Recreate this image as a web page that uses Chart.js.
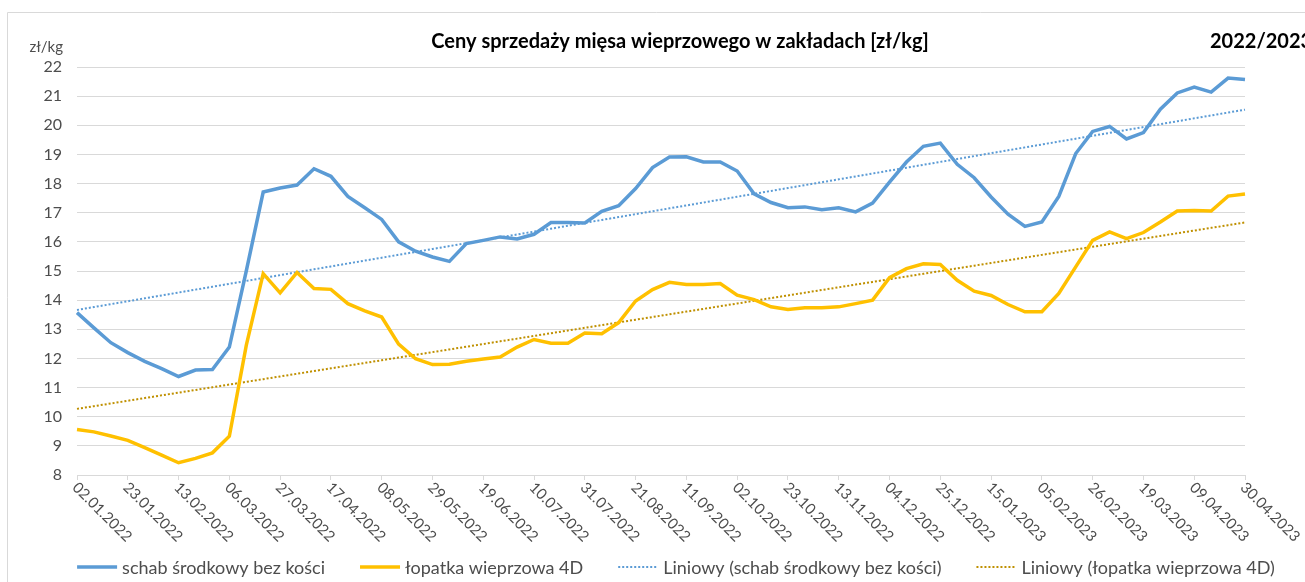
<!DOCTYPE html>
<html lang="pl">
<head>
<meta charset="utf-8">
<script src="https://cdn.jsdelivr.net/npm/chart.js@4.4.1/dist/chart.umd.min.js"></script>
<style>
  html, body { margin: 0; padding: 0; background: #fff; }
  #box { width: 1305px; height: 582px; position: relative; }
</style>
</head>
<body>
<div id="box"><canvas id="pigChart"></canvas></div>
<script>
// tygodnie notowań (niedziela)
const weeks = [
  '02.01.2022', '09.01.2022', '16.01.2022', '23.01.2022', '30.01.2022', '06.02.2022', '13.02.2022', '20.02.2022', '27.02.2022', '06.03.2022',
  '13.03.2022', '20.03.2022', '27.03.2022', '03.04.2022', '10.04.2022', '17.04.2022', '24.04.2022', '01.05.2022', '08.05.2022', '15.05.2022',
  '22.05.2022', '29.05.2022', '05.06.2022', '12.06.2022', '19.06.2022', '26.06.2022', '03.07.2022', '10.07.2022', '17.07.2022', '24.07.2022',
  '31.07.2022', '07.08.2022', '14.08.2022', '21.08.2022', '28.08.2022', '04.09.2022', '11.09.2022', '18.09.2022', '25.09.2022', '02.10.2022',
  '09.10.2022', '16.10.2022', '23.10.2022', '30.10.2022', '06.11.2022', '13.11.2022', '20.11.2022', '27.11.2022', '04.12.2022', '11.12.2022',
  '18.12.2022', '25.12.2022', '01.01.2023', '08.01.2023', '15.01.2023', '22.01.2023', '29.01.2023', '05.02.2023', '12.02.2023', '19.02.2023',
  '26.02.2023', '05.03.2023', '12.03.2023', '19.03.2023', '26.03.2023', '02.04.2023', '09.04.2023', '16.04.2023', '23.04.2023', '30.04.2023'
];

// schab środkowy bez kości [zł/kg]
const schab = [
  13.57, 13.05, 12.54, 12.20, 11.90, 11.65, 11.38, 11.60, 11.62, 12.39,
  15.00, 17.71, 17.85, 17.95, 18.51, 18.25, 17.56, 17.17, 16.77, 16.00,
  15.68, 15.48, 15.33, 15.94, 16.05, 16.17, 16.10, 16.26, 16.66, 16.66,
  16.65, 17.05, 17.24, 17.83, 18.55, 18.91, 18.92, 18.74, 18.74, 18.43,
  17.65, 17.35, 17.17, 17.20, 17.10, 17.17, 17.03, 17.33, 18.05, 18.74,
  19.28, 19.39, 18.66, 18.20, 17.54, 16.95, 16.53, 16.68, 17.56, 19.03,
  19.79, 19.96, 19.53, 19.75, 20.55, 21.11, 21.31, 21.14, 21.62, 21.57
];

// łopatka wieprzowa 4D [zł/kg]
const lopatka = [
  9.56, 9.48, 9.34, 9.19, 8.94, 8.68, 8.42, 8.57, 8.76, 9.33,
  12.45, 14.91, 14.25, 14.95, 14.40, 14.37, 13.88, 13.63, 13.42, 12.49,
  11.99, 11.79, 11.80, 11.90, 11.98, 12.05, 12.39, 12.65, 12.52, 12.52,
  12.87, 12.85, 13.23, 13.97, 14.36, 14.61, 14.54, 14.54, 14.57, 14.17,
  14.02, 13.77, 13.68, 13.74, 13.74, 13.77, 13.88, 14.00, 14.77, 15.08,
  15.25, 15.22, 14.68, 14.31, 14.16, 13.85, 13.60, 13.60, 14.23, 15.14,
  16.05, 16.34, 16.11, 16.32, 16.68, 17.06, 17.08, 17.06, 17.57, 17.64
];

const yTicks = { min: 8, max: 22, step: 1 };
const labelEvery = 3;

// linia trendu (jak "Liniowy" w Excelu) - metoda najmniejszych kwadratow
function linearTrend(values) {
  const n = values.length;
  let sx = 0, sy = 0, sxx = 0, sxy = 0;
  values.forEach(function (v, i) {
    sx += i; sy += v; sxx += i * i; sxy += i * v;
  });
  const b = (n * sxy - sx * sy) / (n * sxx - sx * sx);
  const a = (sy - b * sx) / n;
  return values.map(function (v, i) { return a + b * i; });
}

const FONT = 'Lato, "Liberation Sans", sans-serif';
const TXT = '#4d4d4d';

// dodatkowe elementy: tytuły, etykiety osi X pod katem, legenda, ramka
const decorPlugin = {
  id: 'decor',
  beforeDraw(chart) {
    const c = chart.ctx;
    c.save();
    c.strokeStyle = '#d9d9d9';
    c.lineWidth = 1;
    c.beginPath();
    c.moveTo(7.5, chart.height);
    c.lineTo(7.5, 12.5);
    c.lineTo(chart.width, 12.5);
    c.stroke();
    c.restore();
  },
  afterDraw(chart) {
    const c = chart.ctx;
    const xs = chart.scales.x;
    c.save();

    // tytuly
    c.fillStyle = '#000';
    c.textBaseline = 'alphabetic';
    c.font = 'bold 20px ' + FONT;
    c.textAlign = 'center';
    c.fillText('Ceny sprzedaży mięsa wieprzowego w zakładach [zł/kg]', 680, 48);
    c.textAlign = 'left';
    c.fillText('2022/2023', 1210, 48);

    // jednostka
    c.fillStyle = TXT;
    c.font = '15px ' + FONT;
    c.textAlign = 'right';
    c.fillText('zł/kg', 63, 52);

    // etykiety osi X (obrocone o 45 stopni w dol)
    c.font = '15px ' + FONT;
    c.textAlign = 'left';
    c.textBaseline = 'middle';
    weeks.forEach(function (w, i) {
      if (i % labelEvery !== 0) return;
      const px = xs.getPixelForValue(i);
      c.save();
      c.translate(px - 2, xs.top + 10);
      c.rotate(Math.PI / 4);
      c.fillText(w, 0, 0);
      c.restore();
    });

    // legenda
    c.font = '18px ' + FONT;
    c.textBaseline = 'middle';
    const sample = 40, gapText = 5, gapItem = 35;
    const items = chart.data.datasets;
    let total = 0;
    items.forEach(function (d, i) {
      total += sample + gapText + c.measureText(d.label).width + (i < items.length - 1 ? gapItem : 0);
    });
    let x = 676 - total / 2;
    const y = 567;
    items.forEach(function (d) {
      c.save();
      c.strokeStyle = d.borderColor;
      c.lineWidth = d.borderWidth;
      c.setLineDash(d.borderDash || []);
      c.beginPath();
      c.moveTo(x, y);
      c.lineTo(x + sample, y);
      c.stroke();
      c.restore();
      x += sample + gapText;
      c.fillStyle = TXT;
      c.fillText(d.label, x, y + 1);
      x += c.measureText(d.label).width + gapItem;
    });
    c.restore();
  }
};

const ctx = document.getElementById('pigChart').getContext('2d');

const pigChart = new Chart(ctx, {
  type: 'line',
  data: {
    labels: weeks,
    datasets: [{
      label: 'schab środkowy bez kości',
      data: schab,
      borderColor: '#5b9bd5',
      borderWidth: 3.5,
      pointRadius: 0,
      tension: 0
    }, {
      label: 'łopatka wieprzowa 4D',
      data: lopatka,
      borderColor: '#ffc000',
      borderWidth: 3.5,
      pointRadius: 0,
      tension: 0
    }, {
      label: 'Liniowy (schab środkowy bez kości)',
      data: linearTrend(schab),
      borderColor: '#5b9bd5',
      borderWidth: 2,
      borderDash: [2, 2],
      pointRadius: 0,
      tension: 0
    }, {
      label: 'Liniowy (łopatka wieprzowa 4D)',
      data: linearTrend(lopatka),
      borderColor: '#bf9000',
      borderWidth: 2,
      borderDash: [2, 2],
      pointRadius: 0,
      tension: 0
    }]
  },
  options: {
    responsive: true,
    maintainAspectRatio: false,
    animation: false,
    layout: { padding: { top: 67, right: 60, bottom: 0, left: 0 } },
    plugins: {
      legend: { display: false },
      title: { display: false },
      tooltip: { enabled: false }
    },
    scales: {
      x: {
        offset: false,
        afterFit: function (scale) { scale.height = 107; },
        border: { display: true, color: '#d9d9d9', width: 1 },
        grid: {
          drawOnChartArea: false,
          drawTicks: true,
          tickLength: 5,
          color: function (c) { return c.index % labelEvery === 0 ? '#d9d9d9' : 'rgba(0,0,0,0)'; }
        },
        ticks: { display: false, autoSkip: false }
      },
      y: {
        min: yTicks.min,
        max: yTicks.max,
        afterFit: function (scale) { scale.width = 77; },
        border: { display: false },
        grid: { color: '#d9d9d9', lineWidth: 1, drawTicks: false },
        ticks: {
          stepSize: yTicks.step,
          padding: 15,
          color: TXT,
          font: { family: FONT, size: 16 }
        }
      }
    }
  },
  plugins: [decorPlugin]
});
</script>
</body>
</html>
